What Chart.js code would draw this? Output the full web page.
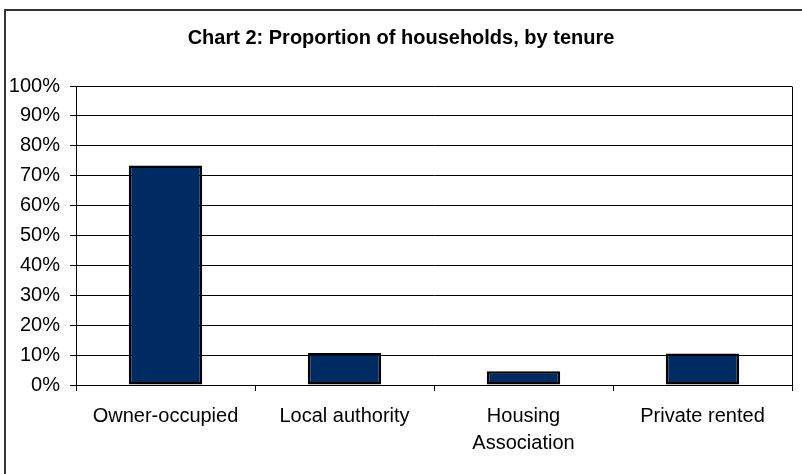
<!DOCTYPE html>
<html>
<head>
<meta charset="utf-8">
<script src="https://cdn.jsdelivr.net/npm/chart.js@4"></script>
<style>
  html, body { margin: 0; padding: 0; background: #fff; overflow: hidden; }
  #wrap { position: relative; width: 802px; height: 474px; overflow: hidden; }
  #frame { position: absolute; left: 4px; top: 9px; width: 820px; height: 500px;
           border: 2px solid #333; pointer-events: none; }
</style>
</head>
<body>
<div id="wrap">
  <canvas id="myChart" width="802" height="474"></canvas>
  <div id="frame"></div>
</div>
<script>
// data
const chartTitle = "Chart 2: Proportion of households, by tenure";
const tenures = ["Owner-occupied", "Local authority", ["Housing", "Association"], "Private rented"];
const shares = [73.4, 10.7, 4.6, 10.5];
const yTicks = [0, 10, 20, 30, 40, 50, 60, 70, 80, 90, 100];

const fontFamily = "'Liberation Sans', Arial, sans-serif";

// title + box round the plot area
const frameAndTitle = {
    id: 'frameAndTitle',
    afterDraw(chart) {
        const ctx = chart.ctx;
        const a = chart.chartArea;
        ctx.save();
        ctx.strokeStyle = '#000';
        ctx.lineWidth = 1;
        ctx.beginPath();
        ctx.moveTo(Math.round(a.right) + 0.5, Math.round(a.top) + 0.5);
        ctx.lineTo(Math.round(a.right) + 0.5, Math.round(a.bottom) + 0.5);
        ctx.stroke();
        ctx.fillStyle = '#000';
        ctx.font = "bold 20px " + fontFamily;
        ctx.textAlign = 'center';
        ctx.textBaseline = 'middle';
        ctx.fillText(chartTitle, chart.width / 2, 38);
        ctx.restore();
    }
};

new Chart(document.getElementById("myChart"), {
    type: 'bar',
    data: {
        labels: tenures,
        datasets: [
            {
                label: "Households",
                backgroundColor: '#002a62',
                borderColor: '#000',
                borderWidth: 2.5,
                borderSkipped: false,
                categoryPercentage: 1,
                barPercentage: 0.41,
                data: shares
            }
        ]
    },
    options: {
        responsive: false,
        animation: false,
        layout: { padding: { top: 86, right: 10, bottom: 0, left: 0 } },
        plugins: {
            legend: { display: false },
            title: { display: false },
            tooltip: { enabled: false }
        },
        scales: {
            x: {
                grid: { drawOnChartArea: false, tickLength: 6, color: '#000' },
                border: { color: '#000', width: 1 },
                ticks: {
                    color: '#000',
                    padding: 12,
                    maxRotation: 0,
                    autoSkip: false,
                    font: { family: fontFamily, size: 20, lineHeight: 1.35 }
                },
                afterFit(scale) { scale.height = 89; }
            },
            y: {
                min: 0,
                max: 100,
                afterBuildTicks(scale) { scale.ticks = yTicks.map(v => ({ value: v })); },
                grid: { color: '#000', tickLength: 6 },
                border: { color: '#000', width: 1 },
                ticks: {
                    color: '#000',
                    padding: 10,
                    font: { family: fontFamily, size: 20 },
                    callback: v => v + '%'
                },
                afterFit(scale) { scale.width = 76; }
            }
        }
    },
    plugins: [frameAndTitle]
});
</script>
</body>
</html>
